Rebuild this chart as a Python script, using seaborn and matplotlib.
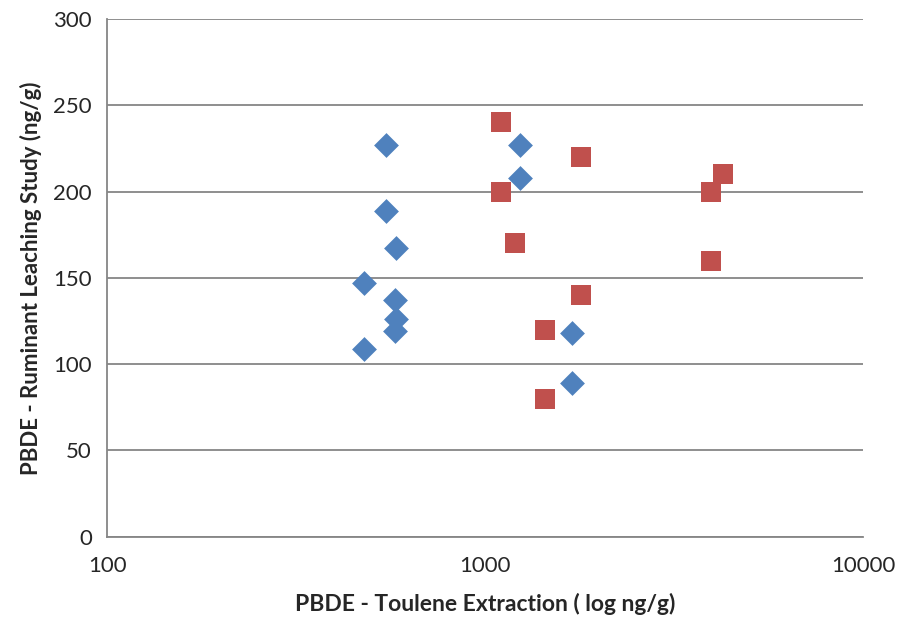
import numpy as np
import pandas as pd
from matplotlib import pyplot as plt
import seaborn as sns

sns.set_style("white")
plt.rcParams['font.family'] = ['Lato', 'DejaVu Sans']

# series 1 (blue diamonds)
blue_x = [547, 547, 582, 479, 579, 582, 579, 479, 1238, 1238, 1698, 1698]
blue_y = [227, 189, 167, 147, 137, 126, 119, 109, 227, 208, 118, 89]

# series 2 (red squares)
red_x = [1102, 1102, 1200, 1443, 1443, 1795, 1795, 3964, 3964, 4265]
red_y = [240, 200, 170, 120, 80, 220, 140, 200, 160, 210]

fig = plt.figure(figsize=(9, 6.3), dpi=100)
ax = fig.add_axes([0.119, 0.148, 0.840, 0.822])

sns.scatterplot(x=blue_x, y=blue_y, marker='D', color='#4F81BD',
                s=160, linewidth=0, ax=ax, zorder=3)
sns.scatterplot(x=red_x, y=red_y, marker='s', color='#C0504D',
                s=215, linewidth=0, ax=ax, zorder=4)

ax.set_xscale('log')
ax.set_xlim(100, 10000)
ax.set_ylim(0, 300)
ax.set_yticks(np.arange(0, 301, 50))
ax.set_xticks([100, 1000, 10000])
ax.set_xticklabels(['100', '1000', '10000'])
ax.minorticks_off()

ax.yaxis.grid(True, color='#868686', linewidth=1.3)
ax.xaxis.grid(False)
for side in ['top', 'right']:
    ax.spines[side].set_visible(False)
for side in ['left', 'bottom']:
    ax.spines[side].set_color('#868686')
    ax.spines[side].set_linewidth(1.3)
ax.tick_params(axis='both', which='major', direction='out', length=7,
               width=1.3, color='#868686', labelsize=16, pad=4)
ax.tick_params(axis='x', pad=7)

ax.set_xlabel('PBDE - Toulene Extraction ( log ng/g)', fontsize=16.5,
              fontweight='bold', labelpad=12)
ax.set_ylabel('PBDE - Ruminant Leaching Study (ng/g)', fontsize=16,
              fontweight='bold', labelpad=8)

plt.savefig('out.png', dpi=100)
